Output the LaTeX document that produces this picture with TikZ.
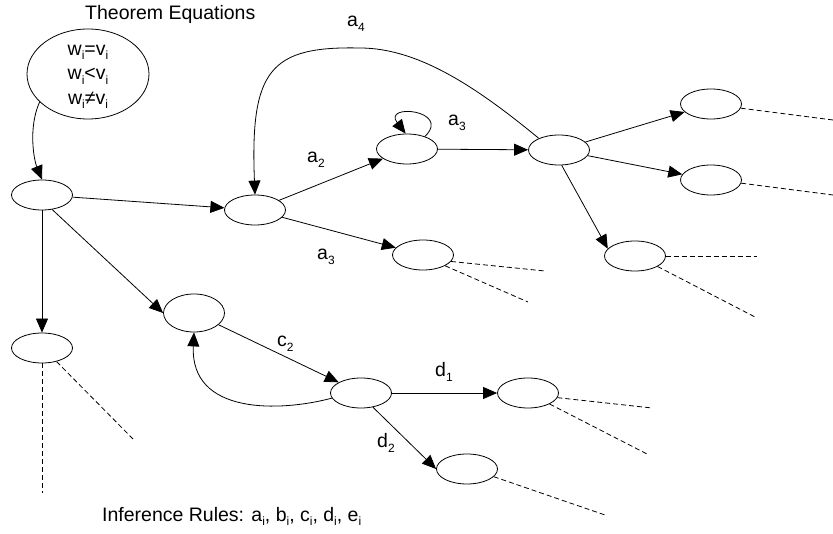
\documentclass[tikz,border=0pt]{standalone}
\usepackage{fontspec}
\setmainfont{Liberation Sans}
\usetikzlibrary{arrows.meta,shapes.geometric}
\newcommand\sbs[1]{\raisebox{-4.5pt}{\fontsize{12}{12}\selectfont #1}}
\begin{document}
\begin{tikzpicture}[x=1pt,y=-1pt,
  st/.style={draw, ellipse, minimum width=61pt, minimum height=30pt, inner sep=0pt, line width=0.8pt},
  arr/.style={-{Triangle[length=14pt,width=12pt]}, line width=0.8pt},
  dsh/.style={dash pattern=on 5pt off 3pt, line width=0.8pt},
  lbl/.style={font=\fontsize{19.5}{23}\selectfont, inner sep=0pt, anchor=base west}]
\useasboundingbox (0,0) rectangle (833,534);
% nodes
\node[st, minimum width=122pt, minimum height=90pt] (T) at (88,74) {};
\node[font=\fontsize{19.5}{24.5}\selectfont, align=center, inner sep=0pt] (Ttext) at (88,77)
  {w\sbs{i}=v\sbs{i}\\ w\sbs{i}<v\sbs{i}\\ w\sbs{i}≠v\sbs{i}};
\node[lbl] (title) at (85,20) {Theorem Equations};
\node[lbl] (rules) at (102,521) {Inference Rules: a\sbs{i}, b\sbs{i}, c\sbs{i}, d\sbs{i}, e\sbs{i}};
\node[st] (A) at (42,195) {};
\node[st] (B) at (255,210) {};
\node[st] (C) at (407,149) {};
\node[st] (D) at (559,150) {};
\node[st] (E) at (711,104) {};
\node[st] (F) at (711,180) {};
\node[st] (G) at (635,256) {};
\node[st] (H) at (423,255) {};
\node[st, minimum height=38pt] (I) at (194,313) {};
\node[st] (J) at (42,348) {};
\node[st] (K) at (361,393) {};
\node[st] (L) at (528,393) {};
\node[st] (M) at (467,469) {};
% labels
\node[lbl] (la4) at (347,27) {a\sbs{4}};
\node[lbl] (la2) at (307,163) {a\sbs{2}};
\node[lbl] (la3a) at (448,126) {a\sbs{3}};
\node[lbl] (la3b) at (317,260) {a\sbs{3}};
\node[lbl] (lc2) at (277,347) {c\sbs{2}};
\node[lbl] (ld1) at (435,377) {d\sbs{1}};
\node[lbl] (ld2) at (377,448) {d\sbs{2}};
% arrows
\draw[arr] (T.210) .. controls (28,128) and (34,160) .. (A.north);
\draw[arr] (A) -- (B);
\draw[arr] (A.-55) -- (I.west);
\draw[arr] (A.south) -- (J.north);
\draw[arr] (B) -- (C);
\draw[arr] (B) -- (H);
\draw[arr] (C.35) .. controls (452,110) and (382,103) .. (C.95);
\draw[arr] (C) -- (D);
\draw[arr] (D.150) .. controls (480,90) and (420,48) .. (360,48)
  .. controls (270,46) and (250,70) .. (B.north);
\draw[arr] (D) -- (E);
\draw[arr] (D) -- (F);
\draw[arr] (D.-80) -- (G.165);
\draw[arr] (I) -- (K);
\draw[arr] (K.190) .. controls (280,412) and (190,415) .. (I.south);
\draw[arr] (K) -- (L);
\draw[arr] (K.-50) -- (M.west);
% dashed continuations
\coordinate (e1) at (833,120);
\coordinate (f1) at (833,195);
\coordinate (g1) at (757,256);
\coordinate (g2) at (755,317);
\coordinate (h1) at (545,271);
\coordinate (h2) at (528,302);
\coordinate (j1) at (42,493);
\coordinate (j2) at (133,439);
\coordinate (l1) at (652,408);
\coordinate (l2) at (649,455);
\coordinate (m1) at (605,515);
\draw[dsh] (E.-8) -- (e1);
\draw[dsh] (F.-6) -- (f1);
\draw[dsh] (G.east) -- (g1);
\draw[dsh] (G.-25) -- (g2);
\draw[dsh] (H.-13) -- (h1);
\draw[dsh] (H.-26) -- (h2);
\draw[dsh] (J.south) -- (j1);
\draw[dsh] (J.-43) -- (j2);
\draw[dsh] (L.-9) -- (l1);
\draw[dsh] (L.-27) -- (l2);
\draw[dsh] (M.-16) -- (m1);
\end{tikzpicture}
\end{document}
